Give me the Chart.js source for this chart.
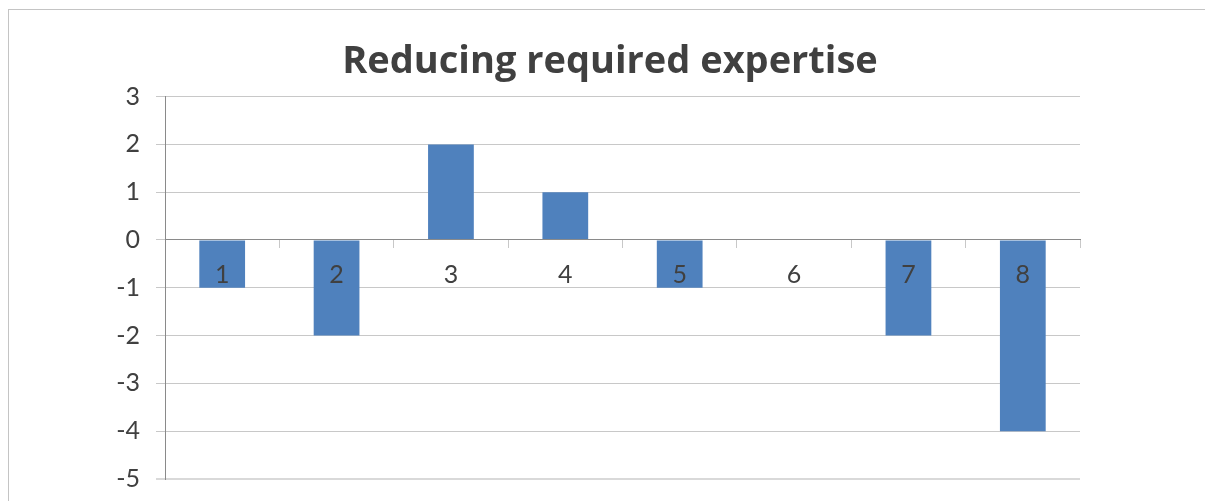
<!DOCTYPE html>
<html>
<head>
<meta charset="utf-8">
<script src="https://cdn.jsdelivr.net/npm/chart.js@4/dist/chart.umd.min.js"></script>
<style>
  html, body { margin: 0; padding: 0; background: #fff; overflow: hidden; }
  #moldura {
    position: absolute; left: 8px; top: 9px; width: 1300px; height: 600px;
    border-left: 1px solid #c4c4c4; border-top: 1px solid #c4c4c4;
  }
  #grafico { position: absolute; left: 0; top: 0; }
</style>
</head>
<body>
<div id="moldura"></div>
<canvas id="grafico" width="1220" height="501"></canvas>
<script>
  // Dados do gráfico
  const titulo = 'Reducing required expertise';
  const categorias = ['1', '2', '3', '4', '5', '6', '7', '8'];
  const valores = [-1, -2, 2, 1, -1, 0, -2, -4];
  const eixoY = { min: -5, max: 3, passo: 1 };

  const COR_BARRA = '#4f81bd';
  const COR_TEXTO = '#404040';
  const COR_GRADE = '#c8c8c8';
  const COR_EIXO = '#8a8a8a';

  Chart.defaults.font.family = 'Lato';

  // fixa a largura do eixo e zera o respiro vertical que ele pede ao layout
  const larguraFixa = (px) => (escala) => {
    escala.width = px;
    escala.paddingTop = 0;
    escala.paddingBottom = 0;
  };

  new Chart(document.getElementById('grafico'), {
    type: 'bar',
    data: {
      labels: categorias,
      datasets: [{
        data: valores,
        backgroundColor: COR_BARRA,
        borderWidth: 0,
        categoryPercentage: 1,
        barPercentage: 0.4,
      }],
    },
    options: {
      responsive: false,
      animation: false,
      layout: { padding: { left: 0, right: 0, top: 0, bottom: 22 } },
      plugins: {
        legend: { display: false },
        tooltip: { enabled: false },
        title: {
          display: true,
          text: titulo,
          color: COR_TEXTO,
          font: { family: 'Open Sans', size: 38, weight: 'bold' },
          padding: { top: 39, bottom: 12 },
        },
      },
      scales: {
        x: {
          position: { y: 0 }, // eixo das categorias cruza no zero
          grid: { drawOnChartArea: false, drawTicks: true, tickLength: 8, color: COR_GRADE, offset: true },
          border: { color: COR_EIXO, z: 1 },
          ticks: { color: COR_TEXTO, font: { size: 25 }, padding: 12, z: 1, maxRotation: 0 },
        },
        y: {
          min: eixoY.min,
          max: eixoY.max,
          afterFit: larguraFixa(165),
          grid: {
            color: (ctx) => (ctx.tick && ctx.tick.value === eixoY.min ? '#d9d9d9' : COR_GRADE),
            lineWidth: (ctx) => (ctx.tick && ctx.tick.value === eixoY.min ? 2 : 1),
            tickLength: 9,
          },
          border: { color: COR_EIXO },
          ticks: { stepSize: eixoY.passo, color: COR_TEXTO, font: { size: 25 }, padding: 16 },
        },
        // eixo vazio à direita: só reserva espaço, deixando o título centrado na moldura
        margemDireita: {
          type: 'linear',
          axis: 'y',
          position: 'right',
          afterFit: larguraFixa(140),
          grid: { display: false },
          border: { display: false },
          ticks: { display: false },
        },
      },
    },
  });
</script>
</body>
</html>
